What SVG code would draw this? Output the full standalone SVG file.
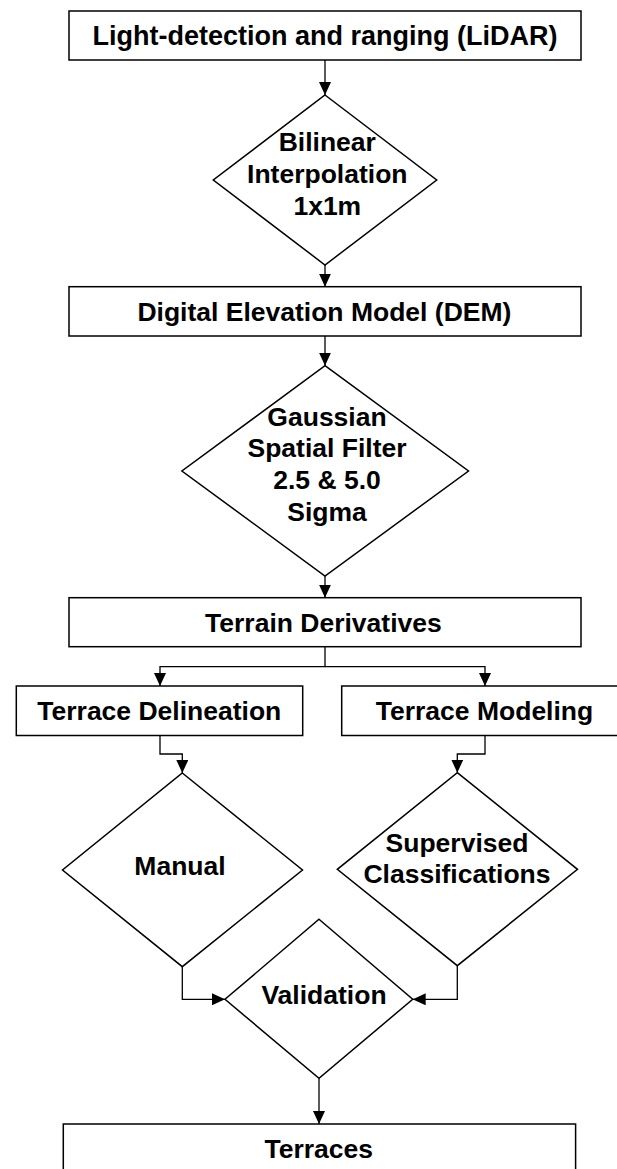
<svg xmlns="http://www.w3.org/2000/svg" width="617" height="1169" viewBox="0 0 617 1169">
  <defs>
    <marker id="arrow" markerUnits="userSpaceOnUse" markerWidth="13" markerHeight="12" refX="13" refY="6" orient="auto">
      <path d="M0,0 L13,6 L0,12 z" fill="#000"/>
    </marker>
    <style>
      .box { fill: #fff; stroke: #000; stroke-width: 1.5; }
      .dia { fill: #fff; stroke: #000; stroke-width: 1.5; }
      .lbl { font-family: "Liberation Sans", Arial, sans-serif; font-weight: bold; font-size: 26.5px; fill: #000; text-anchor: middle; }
      .title { font-size: 27px; }
      .conn { fill: none; stroke: #000; stroke-width: 1.3; }
      .arr { marker-end: url(#arrow); }
    </style>
  </defs>
  <rect width="617" height="1169" fill="#fff"/>

  <!-- connectors -->
  <g id="connectors">
    <path class="conn arr" d="M325,60 V95"/>
    <path class="conn arr" d="M325,265 V286.7"/>
    <path class="conn arr" d="M325,336 V365.7"/>
    <path class="conn arr" d="M325,576 V597.7"/>
    <path class="conn arr" d="M325,646.7 V666.7 H160 V686"/>
    <path class="conn arr" d="M325,666.7 H485 V686"/>
    <path class="conn arr" d="M160,735.5 V754 H182.3 V773"/>
    <path class="conn arr" d="M485,735.5 V754 H457.3 V772.7"/>
    <path class="conn arr" d="M182.3,966.7 V999.3 H225"/>
    <path class="conn arr" d="M457.3,965.7 V999.3 H412.7"/>
    <path class="conn arr" d="M319,1078.3 V1124"/>
  </g>

  <g id="lidar">
    <rect class="box" x="69" y="11" width="512" height="49"/>
    <text class="lbl title" x="325" y="45">Light-detection and ranging (LiDAR)</text>
  </g>

  <g id="bilinear">
    <polygon class="dia" points="325,95 436.7,180 325,265 213.3,180"/>
    <text class="lbl" x="327.3" y="150.7">Bilinear</text>
    <text class="lbl" x="327.3" y="182.7">Interpolation</text>
    <text class="lbl" x="327.3" y="215">1x1m</text>
  </g>

  <g id="dem">
    <rect class="box" x="69" y="286.7" width="512" height="49.3"/>
    <text class="lbl" x="324.4" y="320.7">Digital Elevation Model (DEM)</text>
  </g>

  <g id="gaussian">
    <polygon class="dia" points="325,365.7 468.5,471 325,576 181.9,471"/>
    <text class="lbl" x="327" y="425.7">Gaussian</text>
    <text class="lbl" x="327" y="457.3">Spatial Filter</text>
    <text class="lbl" x="327" y="489">2.5 &amp; 5.0</text>
    <text class="lbl" x="327" y="520.7">Sigma</text>
  </g>

  <g id="terrain">
    <rect class="box" x="69" y="597.7" width="512" height="49"/>
    <text class="lbl" x="323.4" y="631.7">Terrain Derivatives</text>
  </g>

  <g id="delineation">
    <rect class="box" x="16.3" y="686" width="286.4" height="49.5"/>
    <text class="lbl" x="159.3" y="720">Terrace Delineation</text>
  </g>

  <g id="modeling">
    <rect class="box" x="341.7" y="686" width="286.4" height="49.5"/>
    <text class="lbl" x="484.5" y="720">Terrace Modeling</text>
  </g>

  <g id="manual">
    <polygon class="dia" points="182.3,773 302.5,870 182.3,966.7 62.5,870"/>
    <text class="lbl" x="180" y="875">Manual</text>
  </g>

  <g id="supervised">
    <polygon class="dia" points="457.3,772.7 577.5,869.3 457.3,965.7 337.3,869.3"/>
    <text class="lbl" x="457" y="851.7">Supervised</text>
    <text class="lbl" x="457" y="882.7">Classifications</text>
  </g>

  <g id="validation">
    <polygon class="dia" points="319,919.3 412.7,999.3 319,1078.3 225,999.3"/>
    <text class="lbl" x="324" y="1004">Validation</text>
  </g>

  <g id="terraces">
    <rect class="box" x="63.3" y="1124" width="512.3" height="60"/>
    <text class="lbl" x="318.7" y="1158.3">Terraces</text>
  </g>
</svg>
